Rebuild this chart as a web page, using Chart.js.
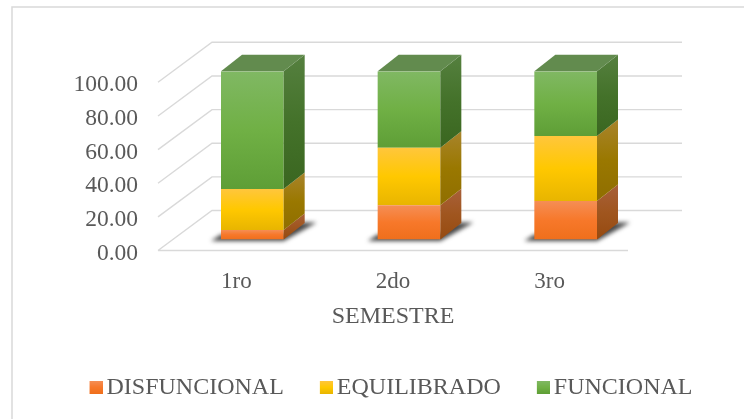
<!DOCTYPE html>
<html><head><meta charset="utf-8">
<style>html,body{margin:0;padding:0;background:#fff}canvas{display:block}</style>
<script src="https://cdn.jsdelivr.net/npm/chart.js@4"></script>
</head><body><canvas id="c" width="744" height="419"></canvas>
<script>
const categories = ['1ro','2do','3ro'];
const disfuncional = [5.7,20.3,22.9];
const equilibrado = [24.3,34.3,38.6];
const funcional = [70.0,45.4,38.5];
const seriesNames = ['DISFUNCIONAL','EQUILIBRADO','FUNCIONAL'];
const yTicks = [0,20,40,60,80,100];
const axisTitle = 'SEMESTRE';

const FONT = "'Liberation Serif'";
const TXT = '#595959';
const GRID = '#D9D9D9';
const front = [['#F58E55','#F7782A','#EF6F1C'],['#FFC63C','#FFC800','#E8B500'],['#80B863','#70B045','#5E9E36']];
const side = [['#A8603A','#A0561F','#964A10'],['#A8842C','#9A7800','#8F6E00'],['#55803F','#44722A','#3A6620']];
const topFace = ['#A8603A','#A8842C','#628B4E'];
const seriesValues = [disfuncional,equilibrado,funcional];

// 3D projection offsets, in px
const barShift = {x:16,y:-11}, wallShift = {x:54,y:-40}, depth = {x:21,y:-16.5};

function vGrad(ctx,y0,y1,c){const g=ctx.createLinearGradient(0,y0,0,y1);g.addColorStop(0,c[0]);g.addColorStop(.5,c[1]);g.addColorStop(1,c[2]);return g;}
function fillFor(i){return function(context){
  const chart=context.chart, y=chart.scales.y, k=context.dataIndex;
  if(!y||k===undefined)return front[i][1];
  let lo=0;for(let s=0;s<i;s++)lo+=seriesValues[s][k];
  const hi=lo+seriesValues[i][k];
  const p0=y.getPixelForValue(hi),p1=y.getPixelForValue(lo);
  if(!isFinite(p0)||!isFinite(p1))return front[i][1];
  return vGrad(chart.ctx,p0,p1,front[i]);
};}
function legendIcon(c){const k=document.createElement('canvas');k.width=17;k.height=13;const x=k.getContext('2d');x.fillStyle=vGrad(x,0,13,c);x.fillRect(4,0,13,13);return k;}
const icons = front.map(legendIcon);

const scene = {
  id:'scene',
  beforeDatasetsDraw(chart){
    const {ctx,chartArea:a,scales:{y}}=chart;
    ctx.save();
    ctx.strokeStyle=GRID;ctx.lineWidth=1.4;
    ctx.beginPath();
    ctx.moveTo(a.left,y.getPixelForValue(0));ctx.lineTo(a.right,y.getPixelForValue(0));
    yTicks.forEach(v=>{const p=y.getPixelForValue(v);
      ctx.moveTo(a.left,p);ctx.lineTo(a.left+wallShift.x,p+wallShift.y);ctx.lineTo(a.right+wallShift.x,p+wallShift.y);});
    ctx.stroke();
    const m=chart.getDatasetMeta(0);
    m.data.forEach(b=>{
      const l=b.x-b.width/2+barShift.x,r=b.x+b.width/2+barShift.x,bt=b.base+barShift.y;
      ctx.save();ctx.filter='blur(2px)';ctx.fillStyle='rgba(40,40,40,.85)';
      ctx.beginPath();ctx.moveTo(l-10,bt+1.5);ctx.lineTo(r,bt+1.5);ctx.lineTo(r+33,bt-17);ctx.lineTo(r+10,bt-17);ctx.lineTo(r,bt-5);ctx.lineTo(l,bt-5);ctx.closePath();ctx.fill();
      ctx.restore();
    });
    ctx.restore();
    ctx.save();ctx.translate(barShift.x,barShift.y);
  },
  afterDatasetsDraw(chart){
    const {ctx}=chart;
    chart.data.datasets.forEach((d,i)=>{
      chart.getDatasetMeta(i).data.forEach(b=>{
        const r=b.x+b.width/2,l=b.x-b.width/2,t=b.y,bs=b.base;
        ctx.fillStyle=vGrad(ctx,t+depth.y,bs,side[i]);
        ctx.beginPath();ctx.moveTo(r,t);ctx.lineTo(r+depth.x,t+depth.y);ctx.lineTo(r+depth.x,bs+depth.y);ctx.lineTo(r,bs);ctx.closePath();ctx.fill();
        if(i===chart.data.datasets.length-1){
          ctx.fillStyle=topFace[i];
          ctx.beginPath();ctx.moveTo(l,t);ctx.lineTo(r,t);ctx.lineTo(r+depth.x,t+depth.y);ctx.lineTo(l+depth.x,t+depth.y);ctx.closePath();ctx.fill();
        }
      });
    });
    ctx.restore();
  }
};
const frame = {id:'frame',beforeDraw(c){const x=c.ctx;x.save();x.fillStyle='#fff';x.fillRect(0,0,744,419);
  x.strokeStyle=GRID;x.lineWidth=1.5;x.beginPath();x.moveTo(12,419);x.lineTo(12,7);x.lineTo(744,7);x.stroke();x.restore();}};

new Chart(document.getElementById('c'),{
  type:'bar',
  data:{labels:categories,datasets:[
    {label:seriesNames[0],data:disfuncional,backgroundColor:fillFor(0)},
    {label:seriesNames[1],data:equilibrado,backgroundColor:fillFor(1)},
    {label:seriesNames[2],data:funcional,backgroundColor:fillFor(2)}
  ]},
  options:{
    responsive:false,animation:false,
    layout:{padding:{left:42,right:0,top:82.3,bottom:9.5}},
    datasets:{bar:{categoryPercentage:1,barPercentage:0.4}},
    scales:{
      x:{stacked:true,grid:{display:false},border:{display:false},
        ticks:{color:TXT,font:{family:FONT,size:23},padding:10,maxRotation:0},
        title:{display:true,text:axisTitle,color:TXT,font:{family:FONT,size:24},padding:{top:8,bottom:4.5}},
        afterFit(s){s.height=85;}},
      y:{stacked:true,min:0,max:100,grid:{display:false},border:{display:false},
        afterBuildTicks(s){s.ticks=yTicks.map(v=>({value:v}));},
        ticks:{color:TXT,font:{family:FONT,size:23.5},padding:12,labelOffset:3,autoSkip:false,callback:v=>Number(v).toFixed(2)},
        afterFit(s){s.width=116;}},
      rightGap:{position:'right',grid:{display:false},border:{display:false},ticks:{display:false},afterFit(s){s.width=116;}}
    },
    plugins:{
      tooltip:{enabled:false},
      legend:{position:'bottom',
        labels:{color:TXT,font:{family:FONT,size:24},usePointStyle:true,pointStyleWidth:1,boxHeight:13,padding:40,
          generateLabels(chart){return Chart.defaults.plugins.legend.labels.generateLabels(chart).map((it,i)=>({...it,pointStyle:icons[i],fontColor:TXT}));}}}
    }
  },
  plugins:[scene,frame]
});
</script></body></html>
